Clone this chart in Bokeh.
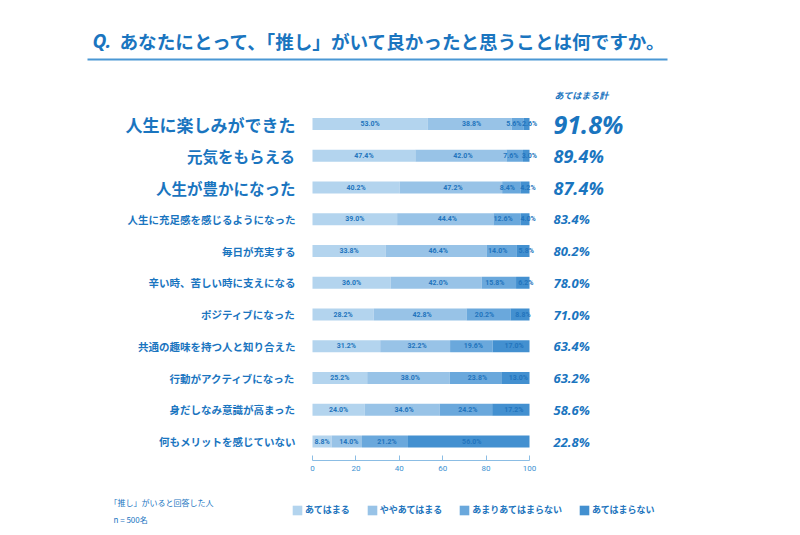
import numpy as np
from bokeh.plotting import figure
from bokeh.layouts import column
from bokeh.models import (ColumnDataSource, Range1d, LinearAxis, FixedTicker,
                          Label, Legend, LegendItem)
from bokeh.core.properties import value
from bokeh.embed import file_html
from bokeh.resources import INLINE

# ---------------- data ----------------
categories = [
    "人生に楽しみができた",
    "元気をもらえる",
    "人生が豊かになった",
    "人生に充足感を感じるようになった",
    "毎日が充実する",
    "辛い時、苦しい時に支えになる",
    "ポジティブになった",
    "共通の趣味を持つ人と知り合えた",
    "行動がアクティブになった",
    "身だしなみ意識が高まった",
    "何もメリットを感じていない",
]
series_names = ["あてはまる", "ややあてはまる", "あまりあてはまらない", "あてはまらない"]
s_apply = [53.0, 47.4, 40.2, 39.0, 33.8, 36.0, 28.2, 31.2, 25.2, 24.0, 8.8]
s_somewhat = [38.8, 42.0, 47.2, 44.4, 46.4, 42.0, 42.8, 32.2, 38.0, 34.6, 14.0]
s_not_much = [5.6, 7.6, 8.4, 12.6, 14.0, 15.8, 20.2, 19.6, 23.8, 24.2, 21.2]
s_not = [2.6, 3.0, 4.2, 4.0, 5.8, 6.2, 8.8, 17.0, 13.0, 17.2, 56.0]
x_ticks = [0, 20, 40, 60, 80, 100]
title_q = "Q."
title_text = "あなたにとって、「推し」がいて良かったと思うことは何ですか。"
total_header = "あてはまる計"
note_lines = ["「推し」がいると回答した人", "n = 500名"]

# ---------------- style ----------------
colors = ["#b3d4ee", "#98c3e7", "#6aa8dc", "#4390d0"]
BLUE = "#1a75bf"
LABEL_BLUE = "#2274bd"
cat_sizes = ["17px", "15.5px", "15.5px"] + ["10.5px"] * 8
tot_sizes = ["25px", "18px", "18px"] + ["13px"] * 8
JP = "Noto Sans CJK JP"

W = 800
TOP_H = 482            # top figure height (frame + axis panel)
BOT_H = 53             # bottom figure height (legend + note)
FRAME_H = 460          # frame height = axis line position
PX_PER = 2.17          # pixels per percentage point
X0_PX = 312            # pixel of x = 0
ROW0_PX = 123.5        # pixel of first row centre
ROW_STEP = 31.75       # pixels between rows

x_start = -X0_PX / PX_PER
x_end = x_start + W / PX_PER
y_end = ROW0_PX / ROW_STEP
y_start = -(FRAME_H - ROW0_PX) / ROW_STEP


def px2x(px):
    return x_start + px / PX_PER


def py2y(py):
    return y_end - py / ROW_STEP


p = figure(width=W, height=TOP_H,
           x_range=Range1d(x_start, x_end), y_range=Range1d(y_start, y_end),
           output_backend="svg", toolbar_location=None,
           x_axis_type=None, y_axis_type=None,
           min_border_left=0, min_border_right=0, min_border_top=0,
           min_border_bottom=TOP_H - FRAME_H)
p.outline_line_color = None
p.background_fill_color = "white"

n = len(categories)
ys = [-i for i in range(n)]
vals = np.array([s_apply, s_somewhat, s_not_much, s_not]).T
keys = ["s1", "s2", "s3", "s4"]
src = ColumnDataSource(dict(y=ys, cat=categories, s1=s_apply, s2=s_somewhat,
                            s3=s_not_much, s4=s_not))
rends = p.hbar_stack(keys, y="y", height=0.378, color=colors, line_color=None,
                     source=src)

# segment labels (small nudges keep the two right-hand labels apart)
cum = np.cumsum(vals, axis=1)
mid = cum - vals / 2
small_last = vals[:, 3] < 10
nudges = np.array([[0, 2, (-4 if s else 2), 3] for s in small_last])
seg_src = ColumnDataSource(dict(
    x=mid.flatten(),
    y=np.repeat(ys, 4),
    t=[f"{v:.1f}%" for v in vals.flatten()],
    dx=nudges.flatten(),
))
p.text(x="x", y="y", text="t", source=seg_src, x_offset="dx",
       text_align="center", text_baseline="middle", text_font=value("Roboto"),
       text_font_style="bold", text_font_size="7px", text_color=LABEL_BLUE)

# category labels
cat_src = ColumnDataSource(dict(x=[0] * n, y=ys, t=categories, fs=cat_sizes))
p.text(x="x", y="y", text="t", source=cat_src, x_offset=-17,
       text_align="right", text_baseline="middle", text_font=value(JP),
       text_font_style="bold", text_font_size="fs", text_color=BLUE)

# totals (あてはまる + ややあてはまる)
totals = vals[:, 0] + vals[:, 1]
tot_src = ColumnDataSource(dict(x=cum[:, -1], y=ys,
                                t=[f"{v:.1f}%" for v in totals], fs=tot_sizes))
p.text(x="x", y="y", text="t", source=tot_src, x_offset=24,
       text_align="left", text_baseline="middle", text_font=value("Noto Sans"),
       text_font_style="bold italic", text_font_size="fs", text_color=BLUE)


# Label screen units are relative to the frame's bottom-left corner
def sy_top(page_y):
    return FRAME_H - page_y


p.add_layout(Label(x=554, y=sy_top(95), x_units="screen", y_units="screen",
                   text=total_header, text_font=JP, text_font_size="9px",
                   text_font_style="bold italic", text_color=BLUE,
                   text_baseline="middle"))

# title
p.add_layout(Label(x=92, y=sy_top(40), x_units="screen", y_units="screen",
                   text=title_q, text_font="Noto Sans", text_font_size="19px",
                   text_font_style="bold italic", text_color=BLUE,
                   text_baseline="middle"))
p.add_layout(Label(x=119, y=sy_top(40), x_units="screen", y_units="screen",
                   text=title_text, text_font=JP, text_font_size="18.6px",
                   text_font_style="bold", text_color=BLUE,
                   text_baseline="middle"))
p.segment(x0=[px2x(87)], x1=[px2x(667)], y0=[py2y(59)], y1=[py2y(59)],
          line_color="#4a97d4", line_width=2)

# axis
ax = LinearAxis(ticker=FixedTicker(ticks=x_ticks), bounds=(0, 100),
                axis_line_color="#8bbde4", major_tick_line_color="#8bbde4",
                major_tick_in=5, major_tick_out=0, minor_tick_line_color=None,
                major_label_text_font_size="8px",
                major_label_text_color="#3d92d2",
                major_label_text_font="Roboto", major_label_standoff=5)
p.add_layout(ax, "below")

# ---------------- bottom strip: legend + note ----------------
b = figure(width=W, height=BOT_H, x_range=Range1d(0, W), y_range=Range1d(0, BOT_H),
           output_backend="svg", toolbar_location=None,
           x_axis_type=None, y_axis_type=None,
           min_border_left=0, min_border_right=0, min_border_top=0,
           min_border_bottom=0)
b.outline_line_color = None
b.background_fill_color = "white"

# zero-size swatch renderers that only feed the legend
swatches = [b.vbar(x=[0], top=[0], width=0, color=c, line_color=None)
            for c in colors]
items = [LegendItem(label=nm, renderers=[r]) for nm, r in zip(series_names, swatches)]
PAGE_BOTTOM = TOP_H + BOT_H


def sy_bot(page_y):
    return PAGE_BOTTOM - page_y


leg = Legend(items=items, orientation="horizontal",
             location=(291, sy_bot(516)), glyph_width=12, glyph_height=12,
             label_standoff=2, spacing=16, padding=0, margin=0,
             border_line_color=None, background_fill_alpha=0,
             label_text_font=JP, label_text_font_size="9px",
             label_text_font_style="bold", label_text_color=LABEL_BLUE,
             label_height=9)
b.add_layout(leg)

for txt, yy, xx in zip(note_lines, [502, 519], [109, 113]):
    b.add_layout(Label(x=xx, y=sy_bot(yy), x_units="screen", y_units="screen",
                       text=txt, text_font=JP, text_font_size="8px",
                       text_color=BLUE, text_baseline="middle"))

layout = column(p, b, spacing=0)
open("out.html", "w").write(file_html(layout, INLINE))
